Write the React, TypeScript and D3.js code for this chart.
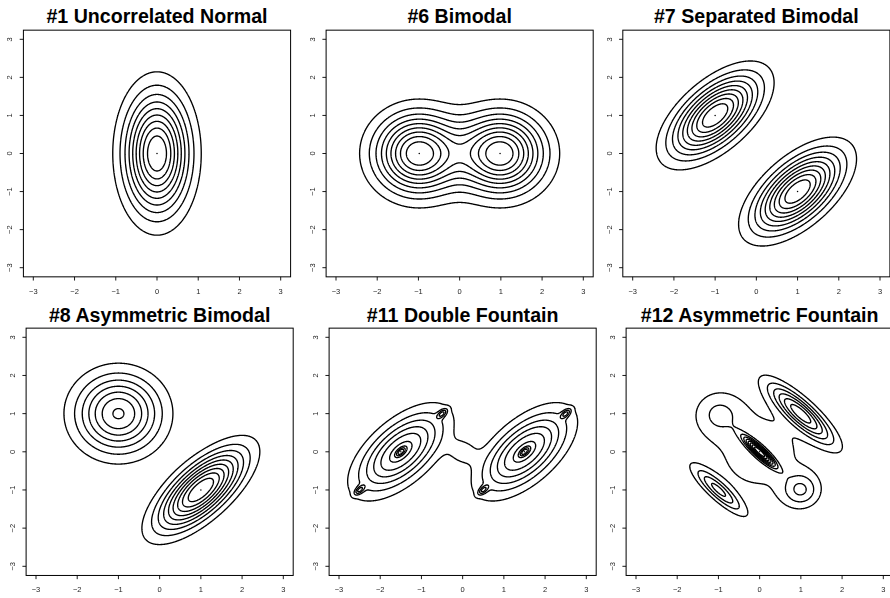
import React, { useMemo } from "react";
import * as d3 from "d3";

const W = 890;
const H = 598;

const titles = [
  "#1 Uncorrelated Normal",
  "#6 Bimodal",
  "#7 Separated Bimodal",
  "#8 Asymmetric Bimodal",
  "#11 Double Fountain",
  "#12 Asymmetric Fountain",
];
const tickValues = [-3, -2, -1, 0, 1, 2, 3];
const levelFractions = [0.1, 0.2, 0.3, 0.4, 0.5, 0.6, 0.7, 0.8, 0.9];

// covariances are [s11, s12, s22]
const d1Weights = [1];
const d1Means = [[0, 0]];
const d1Covs = [[0.25, 0, 1]];

const d6Weights = [0.5, 0.5];
const d6Means = [[-1, 0], [1, 0]];
const d6Covs = [[4 / 9, 0, 4 / 9], [4 / 9, 0, 4 / 9]];

const d7Weights = [0.5, 0.5];
const d7Means = [[-1, 1], [1, -1]];
const d7Covs = [[4 / 9, 4 / 15, 4 / 9], [4 / 9, 4 / 15, 4 / 9]];

const d8Weights = [0.5, 0.5];
const d8Means = [[1, -1], [-1, 1]];
const d8Covs = [[4 / 9, 2.8 / 9, 4 / 9], [4 / 9, 0, 4 / 9]];

const d11Weights = [0.4848, 0.4848, 0.00408, 0.00408, 0.0035, 0.0035, 0.0035, 0.0035, 0.01636];
const d11Means = [[-1.5, 0], [1.5, 0], [-1.5, 0], [1.5, 0], [-2.5, -1], [-0.5, 1], [0.5, -1], [2.5, 1], [0, 0]];
const d11Covs = [
  [0.4444, 0.2667, 0.4444],
  [0.4444, 0.2667, 0.4444],
  [0.006944, 0.004167, 0.006944],
  [0.006944, 0.004167, 0.006944],
  [0.006944, 0.004167, 0.006944],
  [0.006944, 0.004167, 0.006944],
  [0.006944, 0.004167, 0.006944],
  [0.006944, 0.004167, 0.006944],
  [0.0625, 0, 0.0625],
];

const d12Weights = [0.429, 0.0717, 0.25, 0.0907, 0.077, 0.0814];
const d12Means = [[0, 0], [0, 0], [1, 1], [-1, 1], [1, -1], [-1, -1]];
const d12Covs = [
  [1, 0, 1],
  [0.0625, -0.05625, 0.0625],
  [0.25, -0.2125, 0.25],
  [0.16, 0, 0.16],
  [0.09, 0, 0.09],
  [0.14, -0.122, 0.14],
];

const densities = [
  { w: d1Weights, m: d1Means, c: d1Covs },
  { w: d6Weights, m: d6Means, c: d6Covs },
  { w: d7Weights, m: d7Means, c: d7Covs },
  { w: d8Weights, m: d8Means, c: d8Covs },
  { w: d11Weights, m: d11Means, c: d11Covs },
  { w: d12Weights, m: d12Means, c: d12Covs },
];

// layout: pixel positions of ticks -3 and 3
const colTicks = [
  [33.3, 280.7],
  [336, 583.3],
  [632.7, 880],
  [36, 283.3],
  [339, 586.3],
  [636, 883.3],
];
const rowTicks = [
  [267.7, 39.3],
  [566.3, 337.3],
];
const titleBaselines = [22.5, 322];

const LIM = 3.24;
const STEP = 0.01;
const N = Math.round((2 * LIM) / STEP) + 1;

function prep(d: any) {
  return d.w.map((w: number, i: number) => {
    const [s11, s12, s22] = d.c[i];
    const det = s11 * s22 - s12 * s12;
    return {
      mx: d.m[i][0],
      my: d.m[i][1],
      a: s22 / det,
      b: -s12 / det,
      c: s11 / det,
      k: w / (2 * Math.PI * Math.sqrt(det)),
    };
  });
}

function computePanel(d: any) {
  const comps = prep(d);
  const values = new Float64Array(N * N);
  let M = 0;
  for (let j = 0; j < N; j++) {
    const y = -LIM + j * STEP;
    for (let i = 0; i < N; i++) {
      const x = -LIM + i * STEP;
      let s = 0;
      for (const c of comps) {
        const dx = x - c.mx;
        const dy = y - c.my;
        const q = c.a * dx * dx + 2 * c.b * dx * dy + c.c * dy * dy;
        if (q < 80) s += c.k * Math.exp(-0.5 * q);
      }
      values[i + j * N] = s;
      if (s > M) M = s;
    }
  }
  const thresholds = levelFractions.map((f) => f * M);
  const contours = d3.contours().size([N, N]).thresholds(thresholds)(Array.from(values));
  const peaks: [number, number][] = [];
  for (let j = 0; j < N; j++) {
    for (let i = 0; i < N; i++) {
      if (values[i + j * N] >= M * (1 - 1e-6)) {
        const x = -LIM + i * STEP;
        const y = -LIM + j * STEP;
        if (!peaks.some((p) => Math.hypot(p[0] - x, p[1] - y) < 0.2)) peaks.push([x, y]);
      }
    }
  }
  return { contours, peaks };
}

function Panel({ idx, data }: { idx: number; data: any }) {
  const row = idx < 3 ? 0 : 1;
  const sx = d3.scaleLinear().domain([-3, 3]).range(colTicks[idx]);
  const sy = d3.scaleLinear().domain([-3, 3]).range(rowTicks[row]);
  const left = sx(-LIM);
  const right = sx(LIM);
  const top = sy(LIM);
  const bottom = sy(-LIM);
  const gx = (g: number) => sx(-LIM + (g - 0.5) * STEP);
  const gy = (g: number) => sy(-LIM + (g - 0.5) * STEP);
  const paths = data.contours.map((mp: any) =>
    mp.coordinates
      .map((poly: any) =>
        poly
          .map(
            (ring: any) =>
              "M" + ring.map((p: number[]) => gx(p[0]).toFixed(2) + "," + gy(p[1]).toFixed(2)).join("L") + "Z"
          )
          .join("")
      )
      .join("")
  );
  const fmt = (v: number) => (v < 0 ? "\u2212" + Math.abs(v) : String(v));
  return (
    <g>
      <text
        x={(left + right) / 2}
        y={titleBaselines[row]}
        textAnchor="middle"
        fontFamily="'Liberation Sans', Arial, Helvetica, sans-serif"
        fontWeight="bold"
        fontSize={19.6}
        fill="#000"
      >
        {titles[idx]}
      </text>
      <g fill="none" stroke="#000" strokeWidth={1.35} strokeLinejoin="round">
        {paths.map((p: string, i: number) => (
          <path key={i} d={p} />
        ))}
      </g>
      {data.peaks.map((p: number[], i: number) => (
        <circle key={i} cx={sx(p[0])} cy={sy(p[1])} r={0.75} fill="#000" />
      ))}
      <rect x={left} y={top} width={right - left} height={bottom - top} fill="none" stroke="#000" strokeWidth={1} />
      <g stroke="#000" strokeWidth={0.9}>
        {tickValues.map((v) => (
          <line key={"x" + v} x1={sx(v)} x2={sx(v)} y1={bottom} y2={bottom + 3.7} />
        ))}
        {tickValues.map((v) => (
          <line key={"y" + v} x1={left - 3.7} x2={left} y1={sy(v)} y2={sy(v)} />
        ))}
      </g>
      <g
        fontFamily="'Liberation Sans', Arial, Helvetica, sans-serif"
        fontSize={7.5}
        fill="#222"
        style={{ opacity: 0.99 }}
      >
        {tickValues.map((v) => (
          <text key={"xl" + v} x={sx(v)} y={bottom + 17} textAnchor="middle">
            {fmt(v)}
          </text>
        ))}
        {tickValues.map((v) => (
          <text
            key={"yl" + v}
            transform={`translate(${left - 11},${sy(v)}) rotate(-90)`}
            textAnchor="middle"
          >
            {fmt(v)}
          </text>
        ))}
      </g>
    </g>
  );
}

export default function App() {
  const panels = useMemo(() => densities.map((d) => computePanel(d)), []);
  return (
    <div style={{ position: "absolute", left: 0, top: 0, width: W, height: H, background: "#fff" }}>
      <svg width={W} height={H} viewBox={`0 0 ${W} ${H}`} style={{ display: "block" }}>
        <rect x={0} y={0} width={W} height={H} fill="#fff" />
        {panels.map((p, i) => (
          <Panel key={i} idx={i} data={p} />
        ))}
      </svg>
    </div>
  );
}
